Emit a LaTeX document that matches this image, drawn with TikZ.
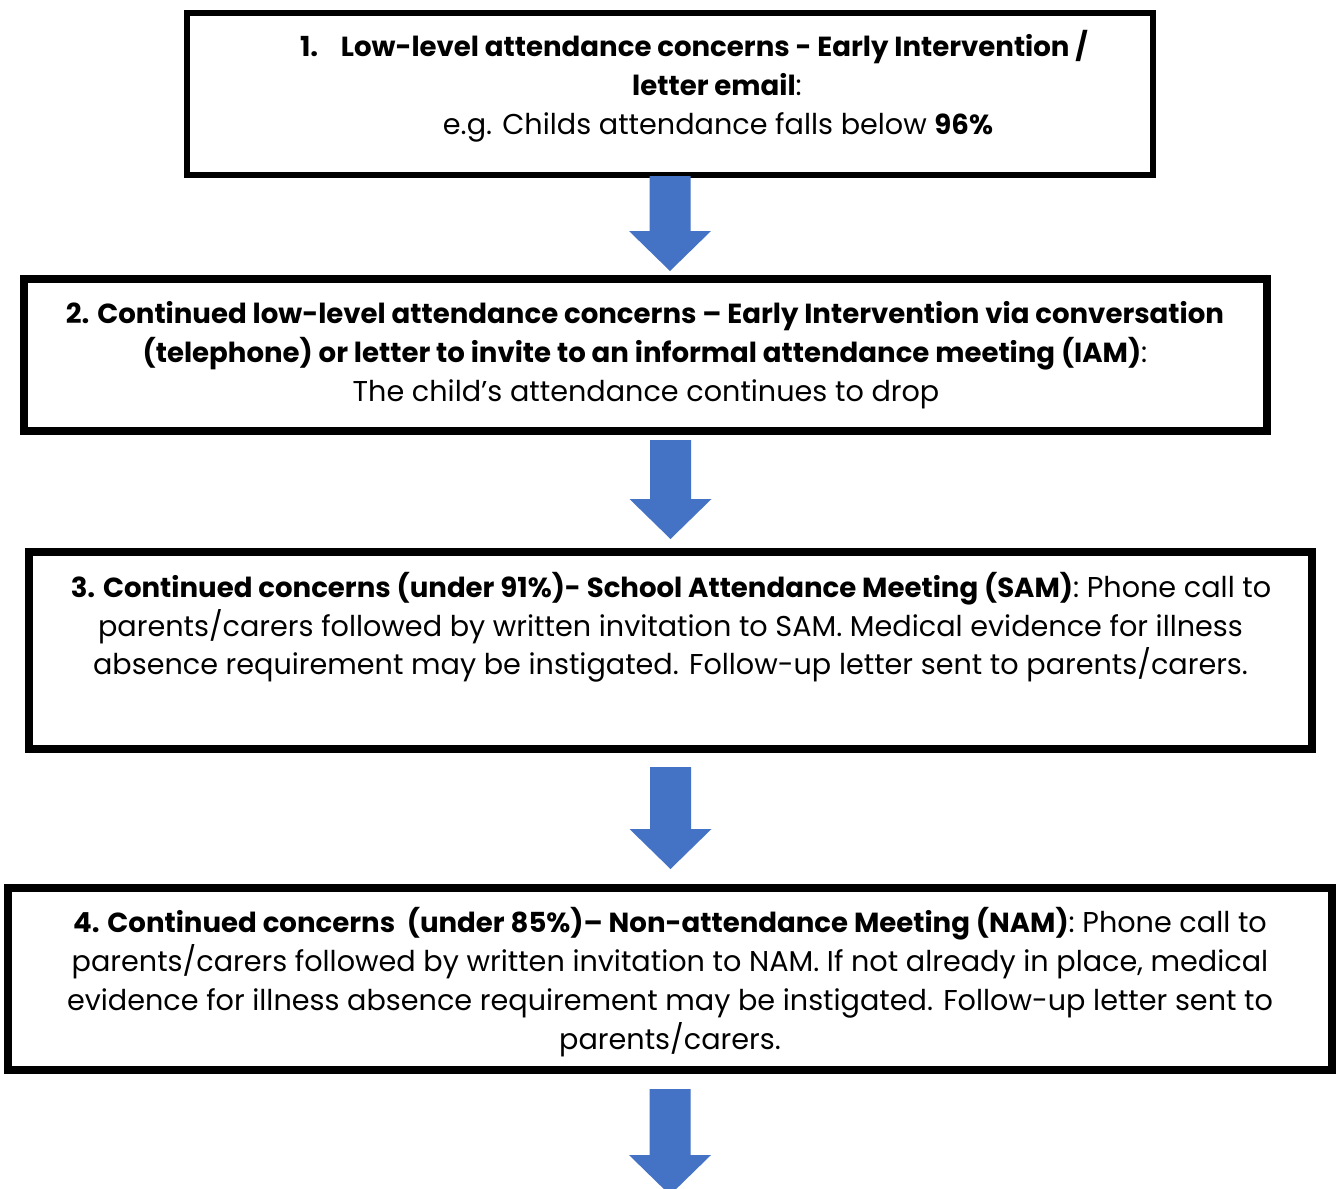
\documentclass[tikz,border=0pt]{standalone}
\usepackage{fontspec}
\setmainfont{Poppins}
\usetikzlibrary{calc}
\definecolor{arrowblue}{HTML}{4472C4}
\newcommand\bt[1]{{\fontsize{20.7pt}{24pt}\selectfont\bfseries #1}}
\tikzset{
  box/.style={draw=black, line width=6pt, fill=white, inner sep=0pt},
  thinbox/.style={draw=black, line width=4.5pt, fill=white, inner sep=0pt},
  txt/.style={anchor=base, inner sep=0pt, font=\fontsize{21.5pt}{25pt}\selectfont},
}
\newcommand\blockarrow[2]{%
  \fill[arrowblue] ($(#1)+(-20.5,0)$) -- ($(#2)+(-20.5,-40)$) -- ($(#2)+(-41,-40)$) -- (#2)
    -- ($(#2)+(41,-40)$) -- ($(#2)+(20.5,-40)$) -- ($(#1)+(20.5,0)$) -- cycle;}
\begin{document}
\begin{tikzpicture}[x=0.75pt, y=-0.75pt]
\useasboundingbox (0,0) rectangle (1336,1189);
\clip (0,0) rectangle (1336,1189);
% boxes
\node[thinbox, minimum width=724.5pt, minimum height=121.5pt] (b1) at (670,94) {};
\node[box, minimum width=932.25pt, minimum height=114pt] (b2) at (645.5,355) {};
\node[box, minimum width=962.25pt, minimum height=147.75pt] (b3) at (670.5,650.5) {};
\node[box, minimum width=993pt, minimum height=136.5pt] (b4) at (670,979) {};
% arrows
\coordinate (a1s) at ([yshift=1.5pt]b1.south);
\coordinate (a1e) at ([yshift=3pt]b2.north -| b1.south);
\coordinate (a2s) at ([yshift=-3.75pt]b2.south -| b3.north);
\coordinate (a2e) at ([yshift=6.75pt]b3.north);
\coordinate (a3s) at ([yshift=-10.5pt]b3.south);
\coordinate (a3e) at ([yshift=11.25pt]b4.north -| b3.south);
\coordinate (a4s) at ([yshift=-11.25pt]b4.south);
\coordinate (a4e) at (670,1195);
\blockarrow{a1s}{a1e}
\blockarrow{a2s}{a2e}
\blockarrow{a3s}{a3e}
\blockarrow{a4s}{a4e}
% box 1 text
\node[txt] (t11) at (694,56) {\bt{1.\hspace{17pt}Low-level attendance concerns - Early Intervention /}};
\node[txt] (t12) at (717,95) {\bt{letter email}:};
\node[txt] (t13) at (718,134) {e.g. Childs attendance falls below \bt{96\%}};
% box 2 text
\node[txt] (t21) at (645,323) {\bt{2. Continued low-level attendance concerns – Early Intervention via conversation}};
\node[txt] (t22) at (645,362) {\bt{(telephone) or letter to invite to an informal attendance meeting (IAM)}:};
\node[txt] (t23) at (646,401) {The child’s attendance continues to drop};
% box 3 text
\node[txt] (t31) at (671,597) {\bt{3. Continued concerns (under 91\%)- School Attendance Meeting (SAM)}: Phone call to};
\node[txt] (t32) at (670.5,636) {parents/carers followed by written invitation to SAM. Medical evidence for illness};
\node[txt] (t33) at (670.5,674) {absence requirement may be instigated. Follow-up letter sent to parents/carers.};
% box 4 text
\node[txt] (t41) at (670,932) {\bt{4. Continued concerns\ \ (under 85\%)– Non-attendance Meeting (NAM)}: Phone call to};
\node[txt] (t42) at (670,971) {parents/carers followed by written invitation to NAM. If not already in place, medical};
\node[txt] (t43) at (670,1010) {evidence for illness absence requirement may be instigated. Follow-up letter sent to};
\node[txt] (t44) at (670,1049) {parents/carers.};
\end{tikzpicture}
\end{document}
